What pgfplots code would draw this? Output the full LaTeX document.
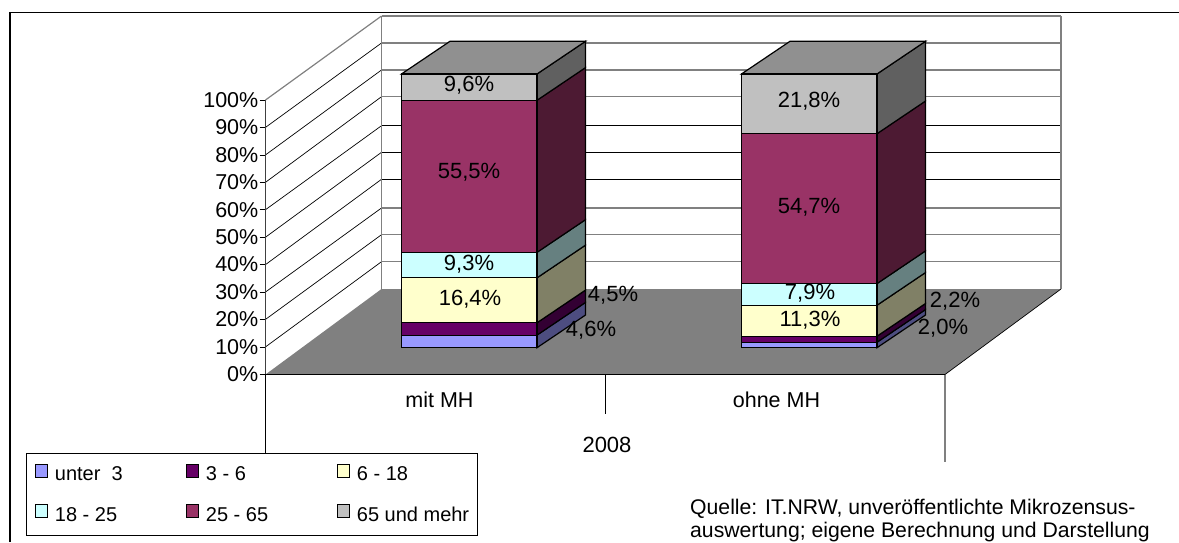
\documentclass[border=0pt]{standalone}
\usepackage{pgfplots}
\pgfplotsset{compat=1.18}
\usepackage{fontspec}
\setmainfont{Liberation Sans}
\newcommand{\lab}{\fontsize{22}{24}\selectfont}
\newcommand{\tlab}{\fontsize{21.5}{24}\selectfont}
\newcommand{\src}{\fontsize{21.2}{24}\selectfont}
\newcommand{\leg}{\fontsize{20}{22}\selectfont}
\definecolor{c1}{HTML}{9999FF}\definecolor{s1}{HTML}{4D4D80}
\definecolor{c2}{HTML}{660066}\definecolor{s2}{HTML}{330033}
\definecolor{c3}{HTML}{FFFFCC}\definecolor{s3}{HTML}{808066}
\definecolor{c4}{HTML}{CCFFFF}\definecolor{s4}{HTML}{668080}
\definecolor{c5}{HTML}{993366}\definecolor{s5}{HTML}{4D1A33}
\definecolor{c6}{HTML}{C0C0C0}\definecolor{s6}{HTML}{606060}
\definecolor{topface}{HTML}{909090}
\pgfplotsset{
  full/.style={scale only axis,width=1179pt,height=542pt,axis lines=none,
    xmin=0,xmax=1179,clip=false,at={(0pt,0pt)},anchor=south west},
  pixels/.style={full,ymin=0,ymax=542,y dir=reverse},
  % 0% of the front faces lies at y=347.7 px, 1% = 2.74 px
  percent/.style={full,ymin=-70.91,ymax=126.9},
  gA/.style={draw=gray,line width=1.2pt,forget plot},
  gB/.style={draw=black,line width=0.7pt,forget plot},
  side/.style={fill=#1,draw=black,line width=1.2pt,forget plot},
}
\begin{document}
\begin{tikzpicture}
\useasboundingbox (0pt,0pt) rectangle (1179pt,542pt);
% frame, walls and floor
\begin{axis}[pixels]
\addplot[draw=black,line width=1.1pt] coordinates {(10,542)(10,12.5)(1179,12.5)};
\addplot[fill=gray,draw=none] coordinates {(265.5,374.5)(381.5,289)(1061,289)(945,374.5)} --cycle;
\addplot[gB] coordinates {(265.5,374.5)(945,374.5)(1061,289)};
\addplot[gB] coordinates {(265.5,346.9)(381.5,261.7)};
\addplot[gB] coordinates {(265.5,319.4)(381.5,234.7)};
\addplot[gB] coordinates {(265.5,292.0)(381.5,208.0)};
\addplot[gB] coordinates {(265.5,264.6)(381.5,179.3)};
\addplot[gB] coordinates {(265.5,237.2)(381.5,152.3)};
\addplot[gB] coordinates {(265.5,209.7)(381.5,125.7)};
\addplot[gB] coordinates {(265.5,182.3)(381.5,96.7)};
\addplot[gB] coordinates {(265.5,154.9)(381.5,70.0)};
\addplot[gB] coordinates {(265.5,127.4)(381.5,43.0)};
\addplot[gA] coordinates {(265.5,100.0)(381.5,16.0)};
\addplot[gA] coordinates {(381.5,16)(1061,16)};
\addplot[gA] coordinates {(381.5,43)(1061,43)};
\addplot[gA] coordinates {(381.5,70)(1061,70)};
\addplot[gA] coordinates {(381.5,96.7)(1061,96.7)};
\addplot[gB] coordinates {(381.5,125.7)(1061,125.7)};
\addplot[gB] coordinates {(381.5,152.3)(1061,152.3)};
\addplot[gB] coordinates {(381.5,179.3)(1061,179.3)};
\addplot[gA] coordinates {(381.5,208)(1061,208)};
\addplot[gA] coordinates {(381.5,234.7)(1061,234.7)};
\addplot[gA] coordinates {(381.5,261.7)(1061,261.7)};
\addplot[draw=gray,line width=1.8pt] coordinates {(381.5,16)(381.5,289)};
\addplot[draw=gray,line width=1.2pt] coordinates {(1061,16)(1061,289)};
\addplot[gB] coordinates {(265.5,374.5)(265.5,453)};
\addplot[gB] coordinates {(605.5,374.5)(605.5,414)};
\addplot[gA] coordinates {(945,374.5)(945,461.5)};
\end{axis}
% percent scale at the front of the left wall
\begin{axis}[scale only axis,width=1pt,height=274.3pt,at={(265.5pt,167.7pt)},anchor=south west,
  axis y line=left,axis x line=none,xmin=0,xmax=1,ymin=0,ymax=100,
  ytick={0,10,...,100},tick align=outside,major tick length=6pt,
  y axis line style={draw=darkgray,line width=1pt,-},
  ytick style={draw=black,line width=0.7pt},
  yticklabel={\pgfmathprintnumber[assume math mode=true]{\tick}\%},
  yticklabel style={font=\tlab,inner xsep=1pt}]
\end{axis}
% side and top faces: cumulated shares, the back edge 48.5 px right and 11.93% up
\begin{axis}[percent]
\addplot[side=s1] coordinates {(537,0)(585.5,11.93)(585.5,16.53)(537,4.6)} --cycle;
\addplot[side=s2] coordinates {(537,4.6)(585.5,16.53)(585.5,21.03)(537,9.1)} --cycle;
\addplot[side=s3] coordinates {(537,9.1)(585.5,21.03)(585.5,37.43)(537,25.5)} --cycle;
\addplot[side=s4] coordinates {(537,25.5)(585.5,37.43)(585.5,46.73)(537,34.8)} --cycle;
\addplot[side=s5] coordinates {(537,34.8)(585.5,46.73)(585.5,102.23)(537,90.3)} --cycle;
\addplot[side=s6] coordinates {(537,90.3)(585.5,102.23)(585.5,111.83)(537,99.9)} --cycle;
\addplot[side=topface] coordinates {(401.5,99.9)(450,111.83)(585.5,111.83)(537,99.9)} --cycle;
\addplot[side=s1] coordinates {(877,0)(925.5,11.93)(925.5,13.93)(877,2)} --cycle;
\addplot[side=s2] coordinates {(877,2)(925.5,13.93)(925.5,16.13)(877,4.2)} --cycle;
\addplot[side=s3] coordinates {(877,4.2)(925.5,16.13)(925.5,27.43)(877,15.5)} --cycle;
\addplot[side=s4] coordinates {(877,15.5)(925.5,27.43)(925.5,35.33)(877,23.4)} --cycle;
\addplot[side=s5] coordinates {(877,23.4)(925.5,35.33)(925.5,90.03)(877,78.1)} --cycle;
\addplot[side=s6] coordinates {(877,78.1)(925.5,90.03)(925.5,111.83)(877,99.9)} --cycle;
\addplot[side=topface] coordinates {(741.5,99.9)(790,111.83)(925.5,111.83)(877,99.9)} --cycle;
\end{axis}
% front faces
\begin{axis}[percent,ybar stacked,bar width=135.5,
  every axis plot/.append style={draw=black,line width=1.2pt},
  legend columns=3,
  legend image code/.code={\draw[#1,line width=1pt] (0pt,-2.5pt) rectangle (11.5pt,10pt);},
  legend style={at={(26/1179,6.3/542)},anchor=south west,draw=black,line width=0.8pt,fill=white,
    font=\leg,row sep=20pt,inner xsep=9pt,inner ysep=10.5pt},
  legend cell align=left]
\addplot[fill=c1] coordinates {(469.25,4.6)(809.25,2.0)};
\addplot[fill=c2] coordinates {(469.25,4.5)(809.25,2.2)};
\addplot[fill=c3] coordinates {(469.25,16.4)(809.25,11.3)};
\addplot[fill=c4] coordinates {(469.25,9.3)(809.25,7.9)};
\addplot[fill=c5] coordinates {(469.25,55.5)(809.25,54.7)};
\addplot[fill=c6] coordinates {(469.25,9.6)(809.25,21.8)};
\legend{\makebox[134.5pt][l]{\hspace{5pt}unter\ \ 3},\makebox[134.5pt][l]{\hspace{5pt}3 - 6},\makebox[115pt][l]{\hspace{5pt}6 - 18},
  \makebox[134.5pt][l]{\hspace{5pt}18 - 25},\makebox[134.5pt][l]{\hspace{5pt}25 - 65},\makebox[115pt][l]{\hspace{5pt}65 und mehr}}
\end{axis}
% texts
\begin{axis}[pixels]
\addplot[draw=none,forget plot] coordinates {(0,0)(1179,542)};
\begin{scope}[every node/.style={font=\lab,inner sep=0pt}]
\node at (axis cs:469,85) {9,6\%};
\node at (axis cs:469,172) {55,5\%};
\node at (axis cs:469,264) {9,3\%};
\node at (axis cs:470,299) {16,4\%};
\node at (axis cs:613,295) {4,5\%};
\node at (axis cs:591,330) {4,6\%};
\node at (axis cs:809,101) {21,8\%};
\node at (axis cs:809,207) {54,7\%};
\node at (axis cs:810,293) {7,9\%};
\node at (axis cs:810,320) {11,3\%};
\node at (axis cs:955,301) {2,2\%};
\node at (axis cs:943,328) {2,0\%};
\node[font=\tlab] at (axis cs:439.5,400) {mit MH};
\node[font=\tlab] at (axis cs:776.5,400) {ohne MH};
\node at (axis cs:607,445) {2008};
\node[font=\src,anchor=base west] at (axis cs:690,514.5) {Quelle: IT.NRW, unveröffentlichte Mikrozensus-};
\node[font=\src,anchor=base west] at (axis cs:690,537) {auswertung; eigene Berechnung und Darstellung};
\end{scope}
\end{axis}
\end{tikzpicture}
\end{document}
